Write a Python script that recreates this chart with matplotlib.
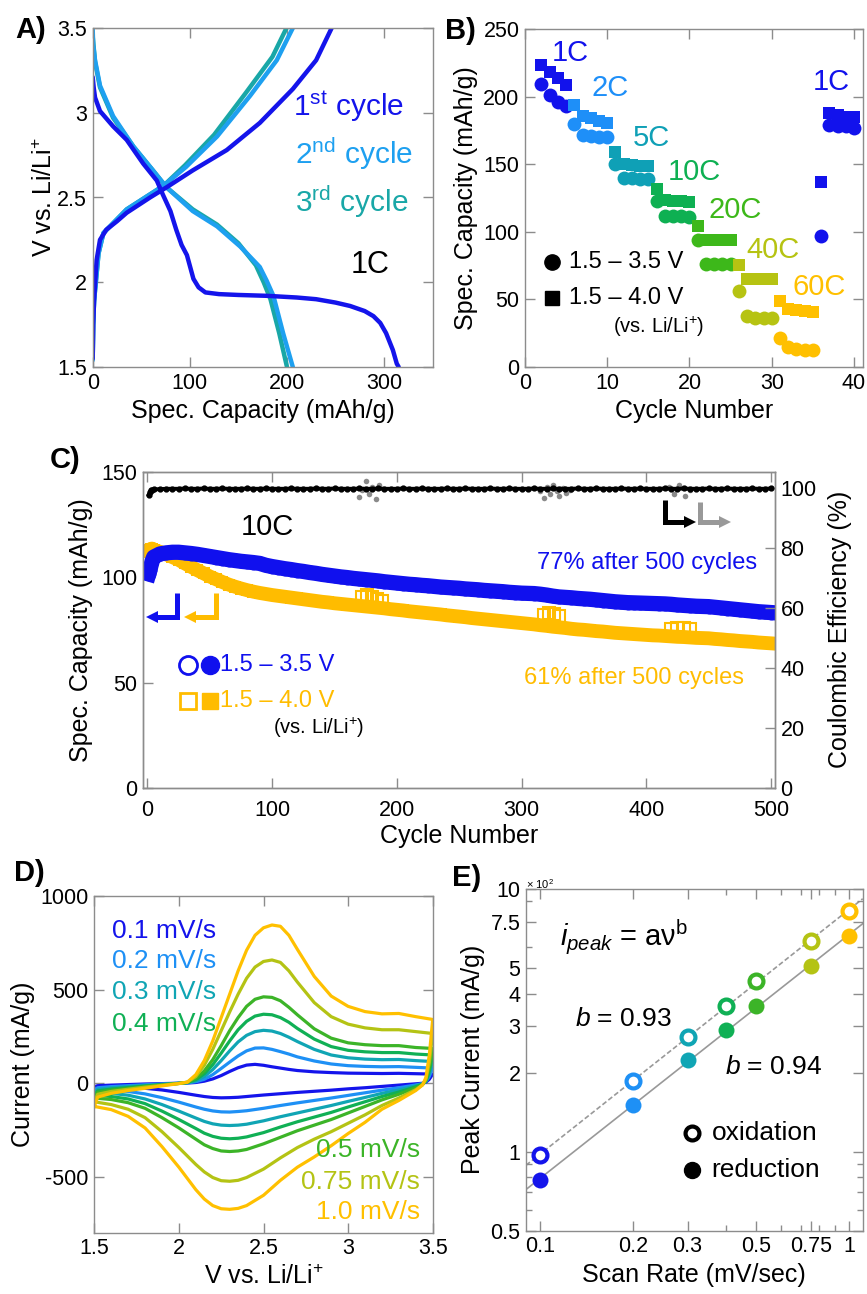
import matplotlib
matplotlib.use('Agg')
import matplotlib.pyplot as plt
from matplotlib.ticker import NullFormatter
import numpy as np

plt.rcParams['font.family'] = ['Liberation Sans', 'DejaVu Sans']
plt.rcParams['mathtext.fontset'] = 'custom'
plt.rcParams['mathtext.rm'] = 'Liberation Sans'
plt.rcParams['mathtext.it'] = 'Liberation Sans:italic'
plt.rcParams['mathtext.bf'] = 'Liberation Sans:bold'
plt.rcParams['axes.unicode_minus'] = False

# ---------------- data ----------------
# A) charge / discharge profiles at 1C
cap_1st_dis = [0, 1, 2.4, 7.5, 21, 35, 52, 66, 72, 80, 86, 91.5, 97, 103.7, 109, 116, 130, 150, 179, 210, 230, 250, 265, 280, 289, 296, 302, 309, 313, 315]
v_1st_dis = [3.21, 3.15, 3.09, 3.01, 2.92, 2.84, 2.70, 2.60, 2.52, 2.42, 2.31, 2.22, 2.16, 2.02, 1.97, 1.94, 1.93, 1.925, 1.92, 1.91, 1.90, 1.88, 1.86, 1.83, 1.80, 1.76, 1.70, 1.60, 1.52, 1.50]
cap_1st_ch = [0, 0.5, 1.4, 4, 7.5, 14, 25, 35, 59, 76, 103, 138, 172, 206, 230, 246]
v_1st_ch = [1.55, 1.75, 1.89, 2.13, 2.25, 2.31, 2.36, 2.41, 2.50, 2.56, 2.66, 2.78, 2.94, 3.14, 3.31, 3.50]
cap_2nd_dis = [0, 0.5, 2.4, 7.5, 21, 42, 62, 76, 103, 128, 152, 172, 179, 186, 196, 203, 206]
v_2nd_dis = [3.49, 3.40, 3.31, 3.16, 2.98, 2.80, 2.66, 2.56, 2.42, 2.33, 2.21, 2.09, 2.01, 1.92, 1.70, 1.56, 1.50]
cap_2nd_ch = [0, 0.5, 1.4, 6, 11, 35, 73, 96, 128, 162, 189.5, 206]
v_2nd_ch = [1.54, 1.75, 1.89, 2.17, 2.29, 2.43, 2.57, 2.68, 2.86, 3.10, 3.31, 3.50]
cap_3rd_dis = [0, 2.4, 7.5, 21, 42, 62, 76, 103, 128, 150, 168, 176, 183, 192, 198, 200]
v_3rd_dis = [3.45, 3.30, 3.15, 2.97, 2.80, 2.66, 2.56, 2.43, 2.34, 2.23, 2.10, 2.00, 1.90, 1.70, 1.55, 1.50]
cap_3rd_ch = [0, 0.5, 1.4, 6, 11, 35, 73, 95, 125, 158, 185, 199.5]
v_3rd_ch = [1.55, 1.75, 1.89, 2.17, 2.29, 2.43, 2.57, 2.69, 2.87, 3.12, 3.33, 3.50]

# B) rate capability
rate_labels = ['1C', '2C', '5C', '10C', '20C', '40C', '60C', '1C']
rate_cycles = [[2, 3, 4, 5], [6, 7, 8, 9, 10], [11, 12, 13, 14, 15], [16, 17, 18, 19, 20],
               [21, 22, 23, 24, 25], [26, 27, 28, 29, 30], [31, 32, 33, 34, 35], [36, 37, 38, 39, 40]]
cap_35 = [[209, 201, 196, 193], [180, 171.5, 171, 170, 170], [150, 140, 139.5, 139, 139],
          [122.7, 112, 112, 111.6, 111], [94, 76.5, 76.5, 76.5, 76.5], [56, 37.5, 36.5, 36, 36],
          [21.5, 15, 13.6, 12.8, 12.3], [97, 179, 178, 178, 176.5]]
cap_40 = [[223.5, 218.5, 213.6, 208.6], [193.8, 185.7, 184, 182, 180.7], [159, 150, 149.4, 149, 148.6],
          [132, 123.5, 123, 122.7, 122], [104, 94.3, 94.3, 94.3, 94.3], [75.8, 65, 65, 65, 65],
          [48.6, 43.2, 42, 41.2, 40.7], [137, 187.6, 186.4, 185, 184.7]]

# C) long cycling at 10C
cyc_c = [1, 2, 3, 4] + list(range(5, 501, 5))
cap_c35 = [101.5, 103.5, 106.0, 108.0,
           109.5, 111.0, 111.5, 111.8, 111.8, 111.5, 111.2, 110.8, 110.3, 109.8,
           109.3, 108.8, 108.3, 107.9, 107.5, 107.2, 106.9, 106.5, 105.6, 105.0,
           104.5, 104.0, 103.6, 103.1, 102.7, 102.2, 101.8, 101.3, 100.9, 100.5,
           100.1, 99.8, 99.4, 99.1, 98.8, 98.5, 98.2, 97.8, 97.5, 97.2,
           96.9, 96.6, 96.4, 96.1, 95.9, 95.6, 95.3, 95.1, 94.9, 94.7,
           94.4, 94.2, 94.0, 93.7, 93.5, 93.3, 93.1, 92.8, 92.6, 92.4,
           92.3, 92.2, 91.9, 91.5, 91.0, 90.6, 90.4, 90.2, 89.9, 89.7,
           89.5, 89.2, 88.9, 88.6, 88.3, 88.1, 87.9, 87.8, 87.7, 87.6,
           87.5, 87.4, 87.3, 87.1, 86.8, 86.6, 86.4, 86.2, 86.1, 86.0,
           85.7, 85.4, 85.1, 84.8, 84.5, 84.2, 83.9, 83.6, 83.4, 83.2]
cap_c40 = [112.0, 113.0, 113.5, 113.5,
           113.0, 112.0, 110.8, 109.5, 108.2, 106.5, 104.9, 103.3, 101.8, 100.3,
           99.0, 97.7, 96.5, 95.5, 94.6, 93.8, 93.1, 92.5, 92.0, 91.5,
           91.1, 90.7, 90.3, 89.9, 89.5, 89.1, 88.7, 88.3, 88.0, 87.6,
           87.3, 87.0, 86.7, 86.4, 86.1, 85.8, 85.5, 85.2, 84.8, 84.5,
           84.2, 83.8, 83.5, 83.2, 82.9, 82.6, 82.3, 81.9, 81.6, 81.3,
           81.0, 80.6, 80.3, 80.0, 79.7, 79.4, 79.1, 78.8, 78.5, 78.2,
           77.9, 77.6, 77.2, 76.9, 76.5, 76.2, 75.9, 75.5, 75.2, 75.0,
           74.7, 74.4, 74.2, 73.9, 73.6, 73.4, 73.2, 73.0, 72.8, 72.6,
           72.4, 72.3, 72.1, 71.9, 71.7, 71.6, 71.4, 71.2, 71.1, 71.0,
           70.7, 70.5, 70.2, 70.0, 69.7, 69.5, 69.3, 69.0, 68.8, 68.6]
ce_c = [97.8, 98.8, 99.3, 99.5,
        99.6, 99.7, 99.8, 99.8, 99.8, 99.9, 99.8, 99.8, 99.9, 99.8,
        99.8, 99.9, 99.8, 99.8, 99.8, 99.9, 99.8, 99.8, 99.9, 99.8,
        99.8, 99.8, 99.9, 99.8, 99.8, 99.8, 99.9, 99.8, 99.8, 99.9,
        99.8, 99.8, 99.8, 99.9, 99.8, 99.8, 99.9, 99.8, 99.8, 99.8,
        99.9, 99.8, 99.8, 99.9, 99.8, 99.8, 99.8, 99.9, 99.8, 99.8,
        99.9, 99.8, 99.8, 99.8, 99.9, 99.8, 99.8, 99.9, 99.8, 99.8,
        99.8, 99.9, 99.8, 99.8, 99.9, 99.8, 99.8, 99.8, 99.9, 99.8,
        99.8, 99.9, 99.8, 99.8, 99.8, 99.9, 99.8, 99.8, 99.9, 99.8,
        99.8, 99.8, 99.9, 99.8, 99.8, 99.9, 99.8, 99.8, 99.8, 99.9,
        99.8, 99.8, 99.9, 99.8, 99.8, 99.8, 99.9, 99.8, 99.8, 99.9]
ce_out_cyc = [170, 172, 175, 178, 180, 183, 186, 315, 318, 320, 323, 325, 328, 330, 333, 336, 339, 418, 422, 426, 431, 435]
ce_out_val = [97.0, 99.5, 102.5, 98.0, 100.5, 96.5, 101.0, 99.0, 96.8, 100.5, 98.0, 101.0, 99.0, 97.5, 100.0, 98.5, 99.5, 100.5, 98.0, 101.0, 97.5, 99.5]
c40_out_cyc = [172, 176, 180, 184, 188, 318, 322, 326, 330, 420, 425, 430, 435]
c40_out_val = [90.5, 91.5, 90.5, 89.5, 88.5, 82.0, 83.0, 82.5, 81.5, 75.5, 76.0, 76.0, 75.5]

# D) cyclic voltammetry
scan_labels = ['0.1 mV/s', '0.2 mV/s', '0.3 mV/s', '0.4 mV/s', '0.5 mV/s', '0.75 mV/s', '1.0 mV/s']
v_ox = [1.50, 1.52, 1.60, 1.70, 1.80, 1.90, 2.00, 2.05, 2.10, 2.15, 2.20, 2.25, 2.30, 2.35, 2.40,
        2.45, 2.50, 2.55, 2.60, 2.65, 2.70, 2.80, 2.90, 3.00, 3.10, 3.20, 3.30, 3.40, 3.50]
i_ox = [
    [-20, -14, -11, -8, -5, -3, -1, 0, 3, 10, 22, 40, 62, 82, 96, 100, 95, 87, 80, 73, 67, 60, 56, 53, 52, 51, 52, 50, 48],
    [-35, -25, -19, -14, -9, -5, -1, 1, 7, 20, 45, 78, 112, 145, 172, 187, 188, 180, 168, 155, 140, 118, 102, 93, 89, 87, 88, 84, 80],
    [-50, -34, -26, -19, -13, -7, -1, 2, 12, 35, 72, 120, 172, 220, 255, 275, 282, 278, 265, 245, 222, 180, 150, 135, 128, 125, 126, 120, 115],
    [-65, -42, -32, -24, -16, -9, -2, 3, 18, 50, 98, 160, 225, 285, 330, 358, 368, 365, 350, 325, 292, 235, 195, 175, 167, 163, 163, 155, 150],
    [-80, -50, -38, -28, -18, -10, -2, 4, 25, 65, 125, 200, 280, 350, 410, 448, 461, 458, 440, 405, 365, 290, 240, 215, 205, 200, 200, 190, 185],
    [-100, -60, -45, -33, -22, -12, -2, 5, 35, 95, 180, 280, 380, 475, 560, 620, 650, 658, 645, 600, 540, 430, 355, 315, 295, 285, 285, 275, 265],
    [-125, -75, -55, -40, -28, -15, -3, 5, 45, 120, 225, 350, 475, 600, 710, 790, 830, 845, 838, 790, 715, 570, 465, 410, 382, 370, 372, 355, 340],
]
v_red = [3.50, 3.48, 3.46, 3.44, 3.40, 3.30, 3.20, 3.10, 3.00, 2.90, 2.80, 2.70, 2.60, 2.50,
         2.40, 2.35, 2.30, 2.25, 2.20, 2.15, 2.10, 2.00, 1.90, 1.80, 1.70, 1.60, 1.50]
i_red = [
    [48, 20, 5, -1, -4, -11, -18, -25, -31, -38, -44, -50, -57, -64, -72, -76, -78, -79, -77, -72, -65, -50, -37, -28, -23, -21, -20],
    [80, 35, 8, -3, -10, -25, -38, -52, -66, -80, -93, -106, -120, -135, -148, -152, -155, -154, -149, -140, -128, -102, -78, -58, -45, -38, -35],
    [115, 50, 10, -5, -15, -37, -55, -77, -98, -120, -140, -160, -180, -202, -220, -225, -227, -225, -218, -205, -187, -150, -115, -85, -65, -55, -50],
    [150, 65, 12, -6, -20, -48, -72, -100, -128, -157, -182, -207, -235, -265, -288, -295, -298, -295, -285, -268, -243, -195, -150, -110, -85, -72, -65],
    [185, 80, 15, -8, -25, -60, -90, -125, -160, -195, -225, -255, -290, -325, -355, -363, -366, -363, -350, -330, -300, -240, -185, -135, -105, -88, -80],
    [265, 110, 20, -10, -35, -80, -120, -170, -215, -260, -300, -345, -400, -460, -505, -520, -525, -522, -505, -475, -435, -345, -260, -185, -140, -115, -100],
    [340, 150, 30, -10, -40, -93, -140, -210, -270, -335, -395, -450, -520, -600, -655, -670, -675, -672, -655, -620, -570, -450, -340, -240, -178, -142, -125],
]

# E) peak current vs scan rate
scan_rate = [0.1, 0.2, 0.3, 0.4, 0.5, 0.75, 1.0]
ox_peak = [97, 186, 274, 358, 447, 636, 825]
red_peak = [78, 150, 223, 290, 358, 511, 661]

# ---------------- styling ----------------
rate_colors = ['#1212EC', '#1E8FF8', '#0FA0B6', '#0EB052', '#3DB81A', '#B6C312', '#FFC000', '#1212EC']
scan_colors = ['#1414EB', '#1E90F5', '#10A5B4', '#10B055', '#3CB428', '#B4C314', '#FFC000']
cyc_colors = ['#1414EB', '#1EA0F0', '#19A7A7']
C_BLUE = '#1010EE'
C_ORANGE = '#FFBC00'
GRAY = '#8c8c8c'

W, H = 867, 1294
fig = plt.figure(figsize=(W / 100, H / 100), dpi=100)


def box(x0, y0, x1, y1):
    return [x0 / W, 1 - y1 / H, (x1 - x0) / W, (y1 - y0) / H]


def style(ax, top=True, right=True, left=True):
    for s in ax.spines.values():
        s.set_color(GRAY)
        s.set_linewidth(1.0)
    ax.tick_params(direction='in', length=7, width=1, color=GRAY, labelsize=15.5,
                   top=top, right=right, left=left, pad=4)
    ax.tick_params(which='minor', direction='in', length=4, width=1, color=GRAY,
                   top=top, right=right, left=left)


def ftext(x, y, s, **kw):
    fig.text(x / W, 1 - y / H, s, **kw)


LABEL = 18

# ---------- A ----------
ax = fig.add_axes(box(92.7, 28, 432.7, 367))
for caps, vs, col in [(cap_3rd_dis, v_3rd_dis, cyc_colors[2]), (cap_3rd_ch, v_3rd_ch, cyc_colors[2]),
                      (cap_2nd_dis, v_2nd_dis, cyc_colors[1]), (cap_2nd_ch, v_2nd_ch, cyc_colors[1]),
                      (cap_1st_dis, v_1st_dis, cyc_colors[0]), (cap_1st_ch, v_1st_ch, cyc_colors[0])]:
    ax.plot(caps, vs, color=col, lw=3.2, solid_capstyle='round')
ax.set_xlim(0, 350)
ax.set_ylim(1.5, 3.5)
ax.set_xticks([0, 100, 200, 300])
ax.set_yticks([1.5, 2, 2.5, 3, 3.5], ['1.5', '2', '2.5', '3', '3.5'])
style(ax)
ax.set_xlabel('Spec. Capacity (mAh/g)', fontsize=LABEL)
ax.set_ylabel('V vs. Li/Li$^{+}$', fontsize=LABEL, labelpad=0)
ax.text(206, 3.04, '1$^{\\mathrm{st}}$ cycle', color=cyc_colors[0], fontsize=21.5, va='center')
ax.text(208, 2.76, '2$^{\\mathrm{nd}}$ cycle', color=cyc_colors[1], fontsize=21.5, va='center')
ax.text(208, 2.475, '3$^{\\mathrm{rd}}$ cycle', color=cyc_colors[2], fontsize=21.5, va='center')
ax.text(265, 2.10, '1C', color='black', fontsize=22, va='center')
ftext(15, 30, 'A)', fontsize=21, weight='bold', va='center')

# ---------- B ----------
ax = fig.add_axes(box(525, 29, 862.7, 367))
for cyc, c35, c40, col in zip(rate_cycles, cap_35, cap_40, rate_colors):
    ax.plot(cyc, c35, 'o', color=col, ms=10, mew=0)
    ax.plot(cyc, c40, 's', color=col, ms=8.5, mew=0)
label_pos = [(3.2, 232), (8.1, 206.7), (13.1, 169.7), (17.3, 144.6), (22.3, 116), (26.9, 86.2), (32.5, 59.5), (35.0, 210.8)]
for (lx, ly), lab, col in zip(label_pos, rate_labels, rate_colors):
    ax.text(lx, ly, lab, color=col, fontsize=21, va='center')
ax.plot([3.3], [77.9], 'o', color='black', ms=11)
ax.plot([3.3], [51.3], 's', color='black', ms=10)
ax.text(5.4, 77.9, '1.5 – 3.5 V', fontsize=17, va='center')
ax.text(5.4, 51.3, '1.5 – 4.0 V', fontsize=17, va='center')
ax.text(16.3, 29.8, '(vs. Li/Li$^{+}$)', fontsize=14.5, va='center', ha='center')
ax.set_xlim(0, 41.06)
ax.set_ylim(0, 250)
ax.set_xticks([0, 10, 20, 30, 40])
ax.set_yticks([0, 50, 100, 150, 200, 250])
style(ax)
ax.set_xlabel('Cycle Number', fontsize=LABEL)
ax.set_ylabel('Spec. Capacity (mAh/g)', fontsize=LABEL, labelpad=4)
ftext(445, 31, 'B)', fontsize=21, weight='bold', va='center')

# ---------- C ----------
ax = fig.add_axes(box(143, 471.7, 775, 788))
ax2 = ax.twinx()
ax.plot(cyc_c, cap_c40, '-', color=C_ORANGE, lw=10, zorder=2)
ax.plot(cyc_c, cap_c40, 's', color=C_ORANGE, ms=8, mew=0, zorder=2)
ax.plot(c40_out_cyc, c40_out_val, 's', mfc='none', mec=C_ORANGE, ms=9, mew=1.5, zorder=2)
ax.plot(cyc_c, cap_c35, '-', color=C_BLUE, lw=11, zorder=3)
ax.plot(cyc_c, cap_c35, 'o', color=C_BLUE, ms=10, mew=0, zorder=3)
ax2.plot(ce_out_cyc, ce_out_val, 'o', color='#8a8a8a', ms=4, mew=0)
ax2.plot(cyc_c, ce_c, 'o-', color='black', ms=3.5, lw=2.8)
ax.set_xlim(-3.6, 503.2)
ax.set_ylim(0, 150)
ax2.set_ylim(0, 105.5)
ax.set_xticks([0, 100, 200, 300, 400, 500])
ax.set_yticks([0, 50, 100, 150])
ax2.set_yticks([0, 20, 40, 60, 80, 100])
style(ax, right=False)
style(ax2, top=False, right=True, left=False)
ax.tick_params(axis='y', right=False)
ax.tick_params(axis='x', pad=9)
ax2.tick_params(axis='y', left=False, labelleft=False)
ax.set_xlabel('Cycle Number', fontsize=LABEL, labelpad=2)
ax.set_ylabel('Spec. Capacity (mAh/g)', fontsize=LABEL, labelpad=6)
ax2.set_ylabel('Coulombic Efficiency (%)', fontsize=LABEL, labelpad=8)
ax.text(75, 124, '10C', fontsize=21, va='center')
ax.text(488.5, 106.8, '77% after 500 cycles', color=C_BLUE, fontsize=17, va='center', ha='right')
ax.text(478.7, 52.0, '61% after 500 cycles', color=C_ORANGE, fontsize=17, va='center', ha='right')
# legend
ax.plot([32.3], [58.3], 'o', mfc='none', mec=C_BLUE, mew=2, ms=13)
ax.plot([50], [58.3], 'o', color=C_BLUE, ms=13)
ax.plot([32.3], [41.3], 's', mfc='none', mec=C_ORANGE, mew=2, ms=12)
ax.plot([50], [41.3], 's', color=C_ORANGE, ms=12)
ax.text(58, 58.3, '1.5 – 3.5 V', color=C_BLUE, fontsize=17, va='center')
ax.text(58, 41.3, '1.5 – 4.0 V', color=C_ORANGE, fontsize=17, va='center')
ax.text(137, 28.3, '(vs. Li/Li$^{+}$)', fontsize=14.5, va='center', ha='center')
# hook arrows
for vx, tip, ytop, ybot, col, mk in [(23.9, 1.5, 92.3, 81.2, C_BLUE, '<'), (55, 31.4, 92.3, 81.2, C_ORANGE, '<'),
                                     (415, 437.5, 136.6, 126.3, 'black', '>'), (443, 465.6, 135.8, 126.3, '#999999', '>')]:
    d = 4.5 if mk == '<' else -4.5
    ax.plot([vx, vx, tip + d], [ytop, ybot, ybot], color=col, lw=3.6, solid_joinstyle='miter', solid_capstyle='butt')
    ax.plot([tip + d * 0.55], [ybot], marker=mk, color=col, ms=9, mew=0)
ftext(50, 460, 'C)', fontsize=21, weight='bold', va='center')

# ---------- D ----------
ax = fig.add_axes(box(94.3, 896, 432.7, 1232.7))
for io, ir, col in zip(i_ox, i_red, scan_colors):
    ax.plot(v_ox + v_red, io + ir, color=col, lw=2.3)
ax.set_xlim(1.5, 3.5)
ax.set_ylim(-800, 1000)
ax.set_xticks([1.5, 2, 2.5, 3, 3.5], ['1.5', '2', '2.5', '3', '3.5'])
ax.set_yticks([-500, 0, 500, 1000])
style(ax)
ax.set_xlabel('V vs. Li/Li$^{+}$', fontsize=LABEL)
ax.set_ylabel('Current (mA/g)', fontsize=LABEL, labelpad=4)
for lab, col, yy in zip(scan_labels[:4], scan_colors[:4], [815, 655, 486, 317]):
    ax.text(1.603, yy, lab, color=col, fontsize=19, va='center')
for lab, col, yy in zip(scan_labels[4:], scan_colors[4:], [-359, -529, -689]):
    ax.text(3.425, yy, lab, color=col, fontsize=19, va='center', ha='right')
ftext(14, 873, 'D)', fontsize=21, weight='bold', va='center')

# ---------- E ----------
ax = fig.add_axes(box(526, 889, 862.7, 1230.7))
ax.set_xscale('log')
ax.set_yscale('log')
xl = (0.0901, 1.105)
lx = np.log10(scan_rate)
p_ox = np.polyfit(lx, np.log10(ox_peak), 1)
p_red = np.polyfit(lx, np.log10(red_peak), 1)
xe = np.array(xl)
ax.plot(xe, 10 ** np.polyval(p_ox, np.log10(xe)), color='#999999', lw=1.2, ls=(0, (3, 1.5)), zorder=1)
ax.plot(xe, 10 ** np.polyval(p_red, np.log10(xe)), color='#999999', lw=1.2, zorder=1)
for x, yo, yr, col in zip(scan_rate, ox_peak, red_peak, scan_colors):
    ax.plot([x], [yo], 'o', mfc='white', mec=col, mew=3, ms=10, zorder=3)
    ax.plot([x], [yr], 'o', color=col, ms=11.5, mew=0, zorder=3)
ax.set_xlim(*xl)
ax.set_ylim(50, 1000)
ax.set_xticks([0.1, 0.2, 0.3, 0.5, 0.75, 1], ['0.1', '0.2', '0.3', '0.5', '0.75', '1'])
ax.set_xticks([0.4, 0.6, 0.7, 0.8, 0.9], minor=True)
ax.set_yticks([50, 100, 200, 300, 400, 500, 750, 1000], ['0.5', '1', '2', '3', '4', '5', '7.5', '10'])
ax.set_yticks([60, 70, 80, 90, 600, 900], minor=True)
ax.xaxis.set_minor_formatter(NullFormatter())
ax.yaxis.set_minor_formatter(NullFormatter())
style(ax)
ax.set_xlabel('Scan Rate (mV/sec)', fontsize=LABEL)
ax.set_ylabel('Peak Current (mA/g)', fontsize=LABEL, labelpad=4)
ax.text(0.101, 0.857, '$i_{peak}$ = aν$^{\\mathrm{b}}$', transform=ax.transAxes, fontsize=21, va='center')
ax.text(0.146, 0.619, '$b$ = 0.93', transform=ax.transAxes, fontsize=19, va='center')
ax.text(0.591, 0.478, '$b$ = 0.94', transform=ax.transAxes, fontsize=19, va='center')
ax.plot([0.492], [0.287], 'o', mfc='white', mec='black', mew=3, ms=10, transform=ax.transAxes)
ax.plot([0.492], [0.178], 'o', color='black', ms=11.5, transform=ax.transAxes)
ax.text(0.551, 0.287, 'oxidation', transform=ax.transAxes, fontsize=19, va='center')
ax.text(0.551, 0.178, 'reduction', transform=ax.transAxes, fontsize=19, va='center')
ftext(526, 884, '× 10$^{2}$', fontsize=8, va='center')
ftext(452, 878, 'E)', fontsize=21, weight='bold', va='center')

fig.savefig('out.png', dpi=100)
